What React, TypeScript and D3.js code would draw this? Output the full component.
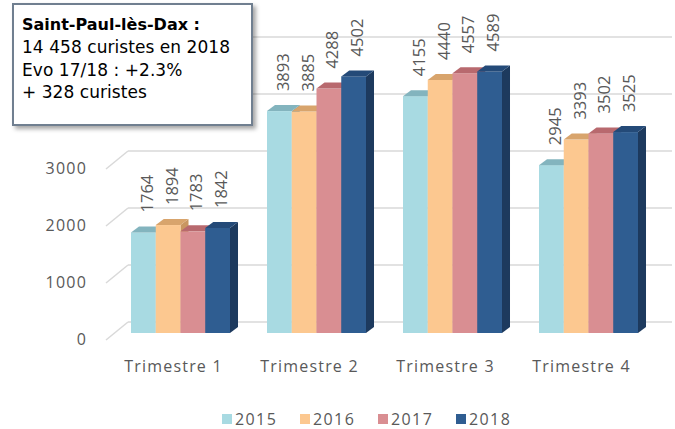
import { useMemo } from 'react';
import * as d3 from 'd3';

const WIDTH = 675;
const HEIGHT = 429;

const categories = ['Trimestre 1', 'Trimestre 2', 'Trimestre 3', 'Trimestre 4'];
const years = ['2015', '2016', '2017', '2018'];
const values2015 = [1764, 3893, 4155, 2945];
const values2016 = [1894, 3885, 4440, 3393];
const values2017 = [1783, 4288, 4557, 3502];
const values2018 = [1842, 4502, 4589, 3525];
const yTicks = [0, 1000, 2000, 3000];
const gridTicks = [0, 1000, 2000, 3000, 4000, 5000];
const boxLines = ['14 458 curistes en 2018', 'Evo 17/18 : +2.3%', '+ 328 curistes'];

const series = [values2015, values2016, values2017, values2018];

// front / top / side shades for each year
const COLORS = [
  { front: '#a8dae2', top: '#83b4be', side: '#7aa7b0' },
  { front: '#fcc890', top: '#d8a46c', side: '#c99661' },
  { front: '#d98e92', top: '#b8696e', side: '#a75e63' },
  { front: '#2f5d91', top: '#244a78', side: '#1d3a5e' },
];

const DEPTH_X = 8; // 3d depth of the bars
const DEPTH_Y = 6;
const WALL_X = 22; // offset of the back wall
const FONT = '"Open Sans", sans-serif';
const TEXT = '#595959';

const App = () => {
  // back wall scale, bars sit a bit in front of it
  const yScale = d3.scaleLinear().domain([0, 5000]).range([322, 37]);
  const barY = (v: number) => yScale(v) + 11;
  const axisY = (v: number) => yScale(v) + 18;

  const xScale = useMemo(
    () =>
      d3
        .scaleBand<string>()
        .domain(categories)
        .range([112.5, 656.5])
        .paddingInner(0.272)
        .paddingOuter(0.136),
    []
  );
  const innerScale = d3.scaleBand<string>().domain(years).range([0, xScale.bandwidth()]);
  const w = innerScale.bandwidth();

  const bars = categories.map((cat, ci) =>
    years.map((yr, si) => {
      const v = series[si][ci];
      const x = (xScale(cat) || 0) + (innerScale(yr) || 0);
      const y0 = barY(0);
      const y1 = barY(v);
      const c = COLORS[si];
      return (
        <g key={cat + yr}>
          <path
            d={`M${x + w},${y1} L${x + w + DEPTH_X},${y1 - DEPTH_Y} L${x + w + DEPTH_X},${y0 - DEPTH_Y} L${x + w},${y0} Z`}
            fill={c.side}
          />
          <rect x={x} y={y1} width={w} height={y0 - y1} fill={c.front} />
          <path
            d={`M${x},${y1} L${x + DEPTH_X},${y1 - DEPTH_Y} L${x + w + DEPTH_X},${y1 - DEPTH_Y} L${x + w},${y1} Z`}
            fill={c.top}
          />
        </g>
      );
    })
  );

  const labels = categories.map((cat, ci) =>
    years.map((yr, si) => {
      const v = series[si][ci];
      const cx = (xScale(cat) || 0) + (innerScale(yr) || 0) + w / 2 + 3;
      const y = barY(v) - 20;
      return (
        <text
          key={'l' + cat + yr}
          transform={`translate(${cx},${y}) rotate(-90)`}
          dominantBaseline="central"
          fontSize={16.5}
          fontFamily={FONT}
          fill={TEXT}
        >
          {v}
        </text>
      );
    })
  );

  return (
    <svg width={WIDTH} height={HEIGHT} style={{ position: 'absolute', left: 0, top: 0 }}>
      <defs>
        <filter id="shadow" x="-10%" y="-10%" width="130%" height="130%">
          <feDropShadow dx={3} dy={3} stdDeviation={2} floodColor="#000" floodOpacity={0.35} />
        </filter>
      </defs>
      <rect width={WIDTH} height={HEIGHT} fill="#fff" />

      {/* back wall gridlines + side wall diagonals */}
      {gridTicks.map((t) => (
        <g key={'g' + t}>
          <line x1={106 + WALL_X} x2={672} y1={yScale(t)} y2={yScale(t)} stroke="#d9d9d9" strokeWidth={1.5} />
          {t <= 3000 && (
            <line x1={106} y1={axisY(t)} x2={106 + WALL_X} y2={yScale(t)} stroke="#d9d9d9" strokeWidth={1.5} />
          )}
        </g>
      ))}

      {yTicks.map((t) => (
        <text
          key={'y' + t}
          x={87}
          y={axisY(t) - 1}
          textAnchor="end"
          dominantBaseline="central"
          fontSize={16}
          letterSpacing={1.2}
          fontFamily={FONT}
          fill={TEXT}
        >
          {t}
        </text>
      ))}

      {bars}
      {labels}

      {categories.map((cat) => (
        <text
          key={'c' + cat}
          x={(xScale(cat) || 0) + xScale.bandwidth() / 2 - 7}
          y={372}
          textAnchor="middle"
          fontSize={16}
          letterSpacing={1.2}
          fontFamily={FONT}
          fill={TEXT}
        >
          {cat}
        </text>
      ))}

      {/* legend */}
      {years.map((yr, i) => (
        <g key={'lg' + yr} transform={`translate(${222 + i * 78},0)`}>
          <rect x={0} y={414} width={10} height={10} fill={COLORS[i].front} />
          <text x={13} y={425} fontSize={16} letterSpacing={1.4} fontFamily={FONT} fill={TEXT}>
            {yr}
          </text>
        </g>
      ))}

      {/* annotation box */}
      <rect x={13} y={4} width={239} height={121} fill="#fff" stroke="#6f7f90" strokeWidth={2} filter="url(#shadow)" />
      <text x={22} y={30} fontSize={16} fontWeight="bold" fontFamily='"DejaVu Sans", sans-serif' fill="#000">
        Saint-Paul-lès-Dax :
      </text>
      {boxLines.map((line, i) => (
        <text
          key={'b' + i}
          x={22}
          y={53 + i * 22.7}
          fontSize={17}
          letterSpacing={0.05}
          fontFamily='"DejaVu Sans", sans-serif'
          fill="#000"
        >
          {line}
        </text>
      ))}
    </svg>
  );
};

export default App;
